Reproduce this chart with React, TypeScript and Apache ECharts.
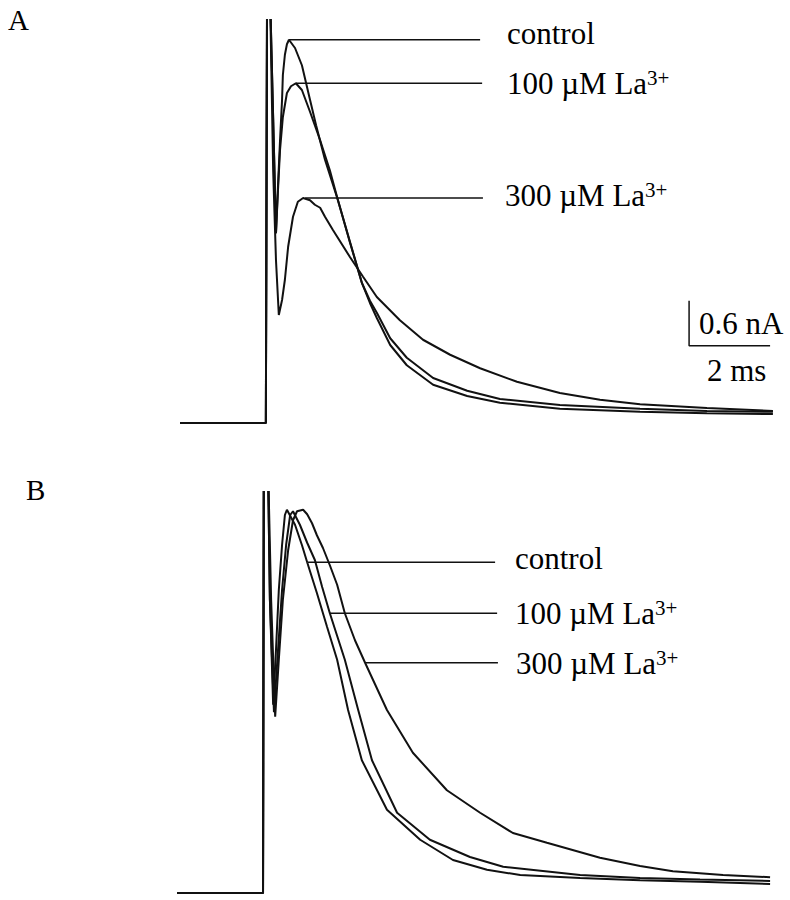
import React, { useEffect, useRef } from "react";
import * as echarts from "echarts";

// Time (ms) and current (nA) samples (stimulus artifact runs off-scale)
const A_CONTROL: number[][] = [
  [0, 0], [2.12, 0], [2.15, 5.8], [2.22, 5.8], [2.32, 3.64], [2.37, 2.53],
  [2.42, 3.17], [2.47, 3.77], [2.52, 4.31], [2.54, 4.64], [2.59, 4.91], [2.64, 5.05],
  [2.69, 5.11], [2.84, 5.0], [3.01, 4.77], [3.21, 4.31], [3.36, 3.97], [3.58, 3.51],
  [3.9, 2.97], [4.2, 2.41], [4.49, 1.87], [4.69, 1.6], [4.86, 1.4], [5.19, 1.04],
  [5.6, 0.77], [6.25, 0.51], [7.09, 0.36], [7.9, 0.27], [9.38, 0.19], [11.36, 0.15],
  [13.01, 0.13], [14.64, 0.12],
];
const A_LA100: number[][] = [
  [0, 0], [2.12, 0], [2.15, 5.8], [2.22, 5.8], [2.32, 3.64], [2.37, 2.53],
  [2.42, 3.11], [2.47, 3.64], [2.54, 4.08], [2.64, 4.4], [2.74, 4.49], [2.86, 4.53],
  [3.01, 4.44], [3.21, 4.15], [3.46, 3.77], [3.7, 3.37], [3.9, 2.97], [4.2, 2.4],
  [4.49, 1.87], [4.69, 1.63], [4.86, 1.47], [5.19, 1.13], [5.6, 0.87], [6.25, 0.6],
  [7.09, 0.43], [7.9, 0.32], [9.38, 0.24], [11.36, 0.19], [13.01, 0.16], [14.64, 0.15],
];
const A_LA300: number[][] = [
  [0, 0], [2.12, 0], [2.15, 5.8], [2.22, 5.8], [2.3, 3.37], [2.37, 2.17],
  [2.44, 1.44], [2.52, 1.64], [2.59, 1.91], [2.67, 2.35], [2.79, 2.75], [2.91, 2.95],
  [3.04, 3.0], [3.21, 2.97], [3.33, 2.91], [3.46, 2.87], [3.58, 2.75], [3.78, 2.57],
  [4.2, 2.21], [4.52, 1.95], [4.86, 1.68], [5.43, 1.37], [6.0, 1.11], [6.67, 0.91],
  [7.41, 0.73], [8.32, 0.55], [9.38, 0.4], [10.37, 0.31], [11.36, 0.25], [13.01, 0.2],
  [14.64, 0.16],
];
const B_CONTROL: number[][] = [
  [-0.07, 0], [2.05, 0], [2.07, 5.8], [2.17, 5.8], [2.22, 3.91], [2.3, 2.51],
  [2.37, 3.24], [2.44, 4.04], [2.52, 4.64], [2.59, 5.04], [2.64, 5.11], [2.84, 4.91],
  [3.01, 4.64], [3.14, 4.41], [3.38, 4.0], [3.63, 3.55], [3.88, 3.11], [4.15, 2.44],
  [4.49, 1.77], [5.11, 1.11], [5.93, 0.71], [6.74, 0.44], [7.58, 0.31], [8.4, 0.24],
  [9.88, 0.2], [11.36, 0.17], [12.84, 0.15], [14.57, 0.12],
];
const B_LA100: number[][] = [
  [-0.07, 0], [2.05, 0], [2.07, 5.8], [2.17, 5.8], [2.22, 3.91], [2.32, 2.41],
  [2.42, 3.24], [2.52, 4.04], [2.62, 4.64], [2.72, 5.04], [2.79, 5.09], [2.96, 4.91],
  [3.14, 4.67], [3.33, 4.44], [3.51, 4.08], [3.7, 3.73], [4.07, 3.11], [4.4, 2.44],
  [4.74, 1.77], [5.36, 1.07], [6.17, 0.71], [7.16, 0.48], [7.98, 0.35], [9.88, 0.24],
  [11.36, 0.2], [12.84, 0.18], [14.57, 0.16],
];
const B_LA300: number[][] = [
  [-0.07, 0], [2.05, 0], [2.07, 5.8], [2.17, 5.8], [2.25, 3.91], [2.35, 2.35],
  [2.44, 3.11], [2.54, 3.91], [2.67, 4.57], [2.79, 4.97], [2.89, 5.09], [3.04, 5.11],
  [3.14, 5.05], [3.26, 4.93], [3.38, 4.77], [3.53, 4.6], [3.7, 4.37], [3.88, 4.11],
  [4.07, 3.73], [4.32, 3.37], [4.57, 3.07], [5.11, 2.44], [5.75, 1.87], [6.59, 1.37],
  [7.41, 1.07], [8.22, 0.8], [9.06, 0.67], [10.37, 0.47], [11.36, 0.36], [12.17, 0.29],
  [13.41, 0.24], [14.57, 0.21],
];

// Leader lines: [tStart, tEnd, current]
const A_LEADERS: number[][] = [[2.69, 7.41, 5.11], [2.86, 7.46, 4.53], [3.09, 7.48, 3.0]];
const B_LEADERS: number[][] = [[3.16, 7.78, 4.41], [3.7, 7.83, 3.73], [4.57, 7.85, 3.07]];

// Scale bar: corner time (ms), corner current (nA), length in ms, length in nA
const SCALE_BAR = { t: 12.57, i: 1.03, dt: 2, di: 0.6 };
const SCALE_LABELS = ["0.6 nA", "2 ms"];
const TRACE_LABELS = ["control", "100 \u00b5M La", "300 \u00b5M La"];
const SUPERSCRIPT = "3+";
const PANEL_LABELS = ["A", "B"];

const FONT = '"Liberation Serif", "Times New Roman", serif';

export default function App() {
  const ref = useRef<HTMLDivElement>(null);
  useEffect(() => {
    if (!ref.current) return;
    const chart = echarts.init(ref.current, undefined, { renderer: "svg" });
    const traceStyle = { color: "#111", width: 2 };
    const mkTrace = (data: number[][], gi: number) => ({
      type: "line",
      xAxisIndex: gi,
      yAxisIndex: gi,
      data,
      symbol: "none",
      smooth: false,
      clip: true,
      lineStyle: traceStyle,
      silent: true,
      z: 3,
    });
    const mkLeader = (l: number[], gi: number) => ({
      type: "line",
      xAxisIndex: gi,
      yAxisIndex: gi,
      data: [[l[0], l[2]], [l[1], l[2]]],
      symbol: "none",
      lineStyle: { color: "#111", width: 1.5 },
      silent: true,
      z: 2,
    });
    const scaleBar = {
      type: "line",
      xAxisIndex: 0,
      yAxisIndex: 0,
      data: [
        [SCALE_BAR.t, SCALE_BAR.i + SCALE_BAR.di],
        [SCALE_BAR.t, SCALE_BAR.i],
        [SCALE_BAR.t + SCALE_BAR.dt, SCALE_BAR.i],
      ],
      symbol: "none",
      lineStyle: { color: "#111", width: 1.5 },
      silent: true,
    };
    const rich = {
      s: { fontSize: 21, fontFamily: FONT, verticalAlign: "top", lineHeight: 20, fill: "#000" },
    };
    const txt = (x: number, y: number, text: string, size = 31, extra: any = {}) => ({
      type: "text",
      x,
      y,
      style: {
        text,
        font: `${size}px ${FONT}`,
        fill: "#000",
        verticalAlign: "middle",
        align: "left",
        ...extra,
      },
    });
    const option: any = {
      animation: false,
      backgroundColor: "#fff",
      grid: [
        { left: 0, top: 20, width: 790, height: 430 },
        { left: 0, top: 492, width: 790, height: 408 },
      ],
      xAxis: [
        { type: "value", gridIndex: 0, min: -180 / 40.5, max: 610 / 40.5, show: false },
        { type: "value", gridIndex: 1, min: -180 / 40.5, max: 610 / 40.5, show: false },
      ],
      yAxis: [
        { type: "value", gridIndex: 0, min: -27 / 75, max: 403 / 75, show: false },
        { type: "value", gridIndex: 1, min: -7 / 75, max: 401 / 75, show: false },
      ],
      series: [
        mkTrace(A_CONTROL, 0),
        mkTrace(A_LA100, 0),
        mkTrace(A_LA300, 0),
        ...A_LEADERS.map((l) => mkLeader(l, 0)),
        scaleBar,
        mkTrace(B_CONTROL, 1),
        mkTrace(B_LA100, 1),
        mkTrace(B_LA300, 1),
        ...B_LEADERS.map((l) => mkLeader(l, 1)),
      ],
      graphic: [
        txt(8, 20, PANEL_LABELS[0], 29),
        txt(26, 490, PANEL_LABELS[1], 29),
        txt(507, 33, TRACE_LABELS[0]),
        txt(507, 83, `${TRACE_LABELS[1]}{s|${SUPERSCRIPT}}`, 31, { rich }),
        txt(505, 195, `${TRACE_LABELS[2]}{s|${SUPERSCRIPT}}`, 31, { rich }),
        txt(515, 558, TRACE_LABELS[0]),
        txt(515, 613, `${TRACE_LABELS[1]}{s|${SUPERSCRIPT}}`, 31, { rich }),
        txt(516, 663, `${TRACE_LABELS[2]}{s|${SUPERSCRIPT}}`, 31, { rich }),
        txt(699, 323, SCALE_LABELS[0]),
        txt(707, 370, SCALE_LABELS[1]),
      ],
    };
    chart.setOption(option);
    return () => chart.dispose();
  }, []);
  return (
    <div
      ref={ref}
      style={{ position: "absolute", left: 0, top: 0, width: 790, height: 900, background: "#fff" }}
    />
  );
}
